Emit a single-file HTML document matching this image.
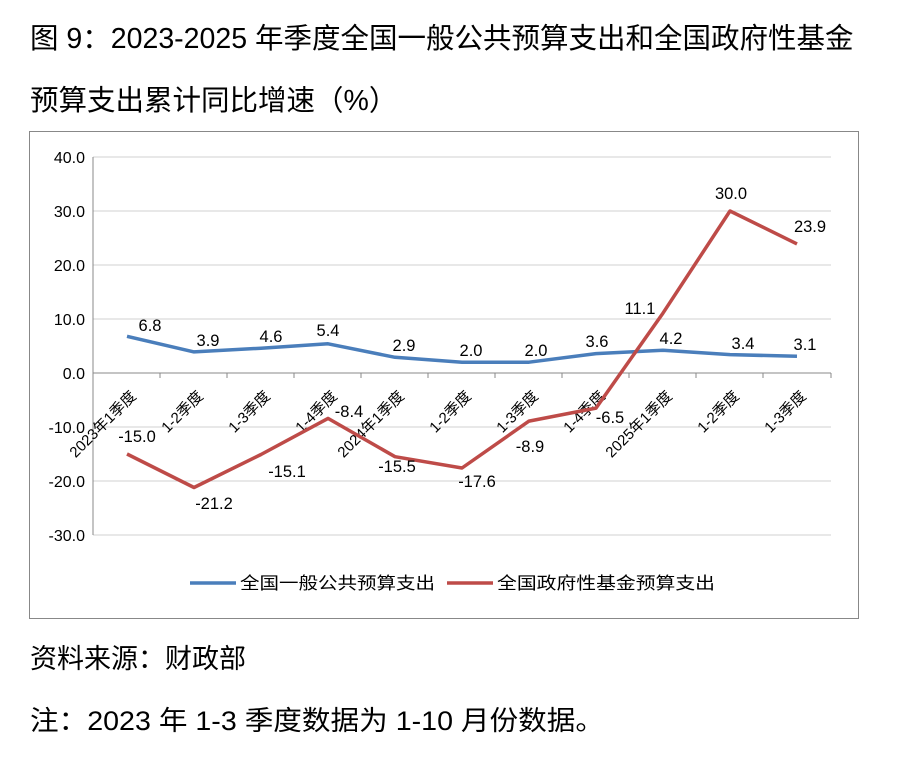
<!DOCTYPE html>
<html><head><meta charset="utf-8"><style>
body{margin:0;background:#fff;width:903px;height:753px;overflow:hidden;font-family:"Liberation Sans","Noto Sans CJK SC",sans-serif;}
</style></head><body>
<svg width="903" height="753" xmlns="http://www.w3.org/2000/svg" font-family="Liberation Sans, Noto Sans CJK SC, sans-serif">
<text x="30" y="48" font-size="28.5" fill="#000">图 9：2023-2025 年季度全国一般公共预算支出和全国政府性基金</text>
<text x="30" y="110" font-size="28.5" fill="#000">预算支出累计同比增速（%）</text>
<rect x="29.5" y="131.5" width="829" height="487" fill="none" stroke="#888" stroke-width="1"/>
<g stroke="#d0d0d0" stroke-width="1">
<line x1="93" y1="157" x2="831" y2="157"/><line x1="93" y1="211" x2="831" y2="211"/>
<line x1="93" y1="265" x2="831" y2="265"/><line x1="93" y1="319" x2="831" y2="319"/>
<line x1="93" y1="427" x2="831" y2="427"/><line x1="93" y1="481" x2="831" y2="481"/>
<line x1="93" y1="535" x2="831" y2="535"/>
</g>
<line x1="93" y1="157" x2="93" y2="535" stroke="#888"/>
<line x1="93" y1="373" x2="831" y2="373" stroke="#888"/>
<g stroke="#888"><line x1="160" y1="373" x2="160" y2="378"/><line x1="227" y1="373" x2="227" y2="378"/><line x1="294" y1="373" x2="294" y2="378"/><line x1="361" y1="373" x2="361" y2="378"/><line x1="428" y1="373" x2="428" y2="378"/><line x1="495" y1="373" x2="495" y2="378"/><line x1="562" y1="373" x2="562" y2="378"/><line x1="629" y1="373" x2="629" y2="378"/><line x1="696" y1="373" x2="696" y2="378"/><line x1="763" y1="373" x2="763" y2="378"/><line x1="831" y1="373" x2="831" y2="378"/></g>
<g font-size="16" text-anchor="end" fill="#000">
<text x="85" y="163">40.0</text><text x="85" y="217">30.0</text><text x="85" y="271">20.0</text><text x="85" y="325">10.0</text><text x="85" y="379">0.0</text><text x="85" y="433">-10.0</text><text x="85" y="487">-20.0</text><text x="85" y="541">-30.0</text>
</g>
<g font-size="15" text-anchor="end" fill="#000">
<text transform="translate(137,397) rotate(-45)">2023年1季度</text>
<text transform="translate(204,397) rotate(-45)">1-2季度</text>
<text transform="translate(271,397) rotate(-45)">1-3季度</text>
<text transform="translate(338,397) rotate(-45)">1-4季度</text>
<text transform="translate(405,397) rotate(-45)">2024年1季度</text>
<text transform="translate(472,397) rotate(-45)">1-2季度</text>
<text transform="translate(539,397) rotate(-45)">1-3季度</text>
<text transform="translate(606,397) rotate(-45)">1-4季度</text>
<text transform="translate(673,397) rotate(-45)">2025年1季度</text>
<text transform="translate(740,397) rotate(-45)">1-2季度</text>
<text transform="translate(807,397) rotate(-45)">1-3季度</text>
</g>
<polyline fill="none" stroke="#4a7ebb" stroke-width="3.5" stroke-linejoin="round" points="127,336.3 194,351.9 261,348.2 328,343.8 395,357.3 462,362.2 529,362.2 596,353.6 663,350.3 730,354.6 797,356.3"/>
<polyline fill="none" stroke="#be4b48" stroke-width="3.5" stroke-linejoin="round" points="127,454 194,487.5 261,454.5 328,418.4 395,456.7 462,468 529,421.1 596,408.1 663,313.1 730,211 797,243.9"/>
<g font-size="16.5" text-anchor="middle" fill="#000">
<text x="150" y="331">6.8</text><text x="208" y="346">3.9</text><text x="271" y="342">4.6</text><text x="328" y="336">5.4</text><text x="404" y="351">2.9</text><text x="471" y="356">2.0</text><text x="536" y="356">2.0</text><text x="597" y="347">3.6</text><text x="671" y="344">4.2</text><text x="743" y="349">3.4</text><text x="805" y="350">3.1</text>
<text x="137" y="442">-15.0</text><text x="214" y="509">-21.2</text><text x="287" y="477">-15.1</text><text x="349" y="417">-8.4</text><text x="397" y="472">-15.5</text><text x="477" y="487">-17.6</text><text x="530" y="452">-8.9</text><text x="610" y="423">-6.5</text><text x="640" y="314">11.1</text><text x="731" y="199">30.0</text><text x="810" y="232">23.9</text>
</g>
<line x1="190" y1="583" x2="236" y2="583" stroke="#4a7ebb" stroke-width="3.5"/>
<text x="240" y="589" font-size="17" fill="#000" textLength="195" lengthAdjust="spacingAndGlyphs">全国一般公共预算支出</text>
<line x1="447" y1="583" x2="493" y2="583" stroke="#be4b48" stroke-width="3.5"/>
<text x="497" y="589" font-size="17" fill="#000" textLength="218" lengthAdjust="spacingAndGlyphs">全国政府性基金预算支出</text>
<text x="30" y="668" font-size="27" fill="#000">资料来源：财政部</text>
<text x="30" y="730" font-size="27" fill="#000" textLength="574" lengthAdjust="spacingAndGlyphs">注：2023 年 1-3 季度数据为 1-10 月份数据。</text>
</svg>
</body></html>
